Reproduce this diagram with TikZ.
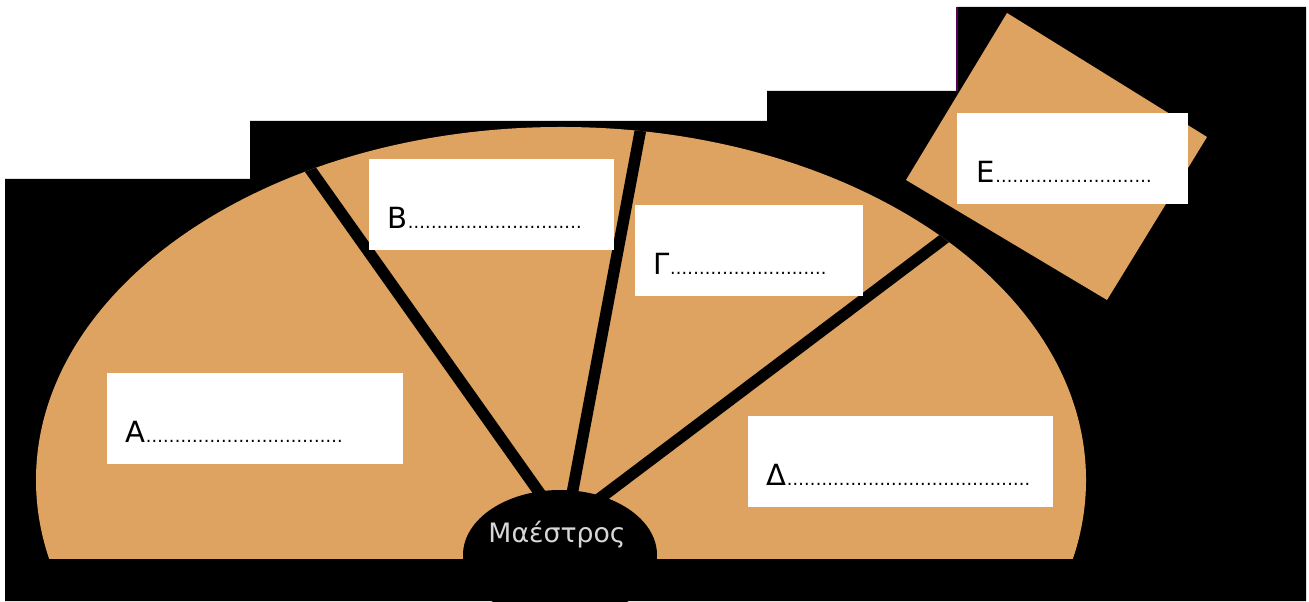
\documentclass[tikz,border=0pt]{standalone}
\usepackage{fontspec}
\setmainfont{DejaVu Sans}
\usetikzlibrary{positioning}

\definecolor{sand}{RGB}{222,163,96}
\definecolor{maestrogray}{RGB}{215,215,215}
\newcommand{\dotrow}[1]{{\fontsize{5}{6}\selectfont\foreach \i in {1,...,#1}{\makebox[0.058cm]{.}}}}

\tikzset{
    blank/.style={fill=white, minimum height=0.91cm, anchor=north west, inner sep=0pt},
    answer/.style={anchor=base west, inner sep=0pt, font=\fontsize{8.3}{10}\selectfont},
    divider/.style={line width=0.115cm, black},
}

\begin{document}
\begin{tikzpicture}
    \useasboundingbox (0,0) rectangle (13.09,6.01);

    %fond
    \fill[black] (0.05,0) -- (0.05,4.22) -- (2.50,4.22) -- (2.50,4.80) -- (7.67,4.80) -- (7.67,5.10) -- (9.57,5.10) -- (9.57,5.94) -- (13.06,5.94) -- (13.06,0) -- cycle;
    \draw[violet!70!black, line width=0.3pt] (9.57,5.10) -- (9.57,5.94);

    %orchestra
    \begin{scope}
        \clip (0,0.43) rectangle (13.09,6.01);
        \fill[sand] (5.61,1.21) ellipse (5.25 and 3.53);
    \end{scope}

    %skene
    \fill[sand] (10.07,5.88) -- (12.07,4.64) -- (11.07,3.01) -- (9.06,4.21) -- cycle;

    %separations
    \coordinate (hubAB) at (5.46,0.99);
    \coordinate (hubBG) at (5.70,0.96);
    \coordinate (hubGD) at (5.95,0.99);
    \coordinate (rimAB) at (3.05,4.39);
    \coordinate (rimBG) at (6.42,4.79);
    \coordinate (rimGD) at (9.53,3.69);
    \begin{scope}
        \clip (5.61,1.21) ellipse (5.25 and 3.53);
        \draw[divider] (hubAB) -- (rimAB);
        \draw[divider] (hubBG) -- (rimBG);
        \draw[divider] (hubGD) -- (rimGD);
    \end{scope}

    %maestro
    \fill[black] (5.60,0.46) ellipse (0.97 and 0.65);
    \node[anchor=base, inner sep=0pt, text=maestrogray, font=\fontsize{7.6}{9}\selectfont] (maestro) at (5.57,0.58) {Μαέστρος};

    %cases
    \node[blank, minimum width=2.96cm] (boxA) at (1.06,2.29) {};
    \node[blank, minimum width=2.45cm] (boxB) at (3.68,4.43) {};
    \node[blank, minimum width=2.28cm] (boxG) at (6.34,3.97) {};
    \node[blank, minimum width=3.05cm] (boxD) at (7.47,1.86) {};
    \node[blank, minimum width=2.31cm] (boxE) at (9.56,4.89) {};

    \node[answer] (txtA) at ([shift={(0.19,0.22)}]boxA.south west) {Α\dotrow{34}};
    \node[answer] (txtB) at ([shift={(0.19,0.22)}]boxB.south west) {Β\dotrow{30}};
    \node[answer] (txtG) at ([shift={(0.19,0.22)}]boxG.south west) {Γ\dotrow{27}};
    \node[answer] (txtD) at ([shift={(0.19,0.22)}]boxD.south west) {Δ\dotrow{42}};
    \node[answer] (txtE) at ([shift={(0.20,0.22)}]boxE.south west) {Ε\dotrow{27}};

\end{tikzpicture}
\end{document}
